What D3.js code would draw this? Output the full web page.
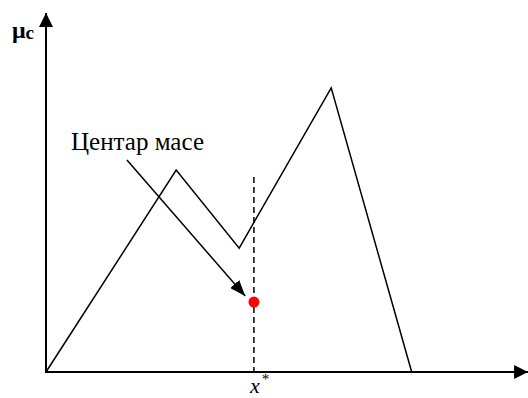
<!DOCTYPE html>
<html>
<head>
<meta charset="utf-8">
<script src="https://cdn.jsdelivr.net/npm/d3@7"></script>
</head>
<body style="margin:0;padding:0;background:#fff">
<svg id="chart" width="528" height="398"></svg>
<script>
// Aggregated membership function (output fuzzy set)
const xValues  = [0, 2.83, 4.2, 6.2, 7.95];
const muValues = [0, 0.673, 0.413, 0.947, 0];

// Centroid (defuzzified output)
const centroidX = 4.52;
const centroidMu = 0.233;
const centroidLineTop = 0.65;

// Annotation arrow: start and end points
const arrowFrom = [1.76, 0.707];
const arrowTo   = [4.33, 0.253];

// Text labels
const noteText = "Центар масе";
const muText = "μ";
const muSub = "c";
const xText = "x";
const xSup = "*";

// Axis extents
const xAxisMax = 10.48;
const yAxisMax = 1.197;

const FONT = '"Liberation Serif", "Times New Roman", "DejaVu Serif", serif';

const svg = d3.select("#chart");
const x = d3.scaleLinear().domain([0, 10]).range([46, 506]);
const y = d3.scaleLinear().domain([0, 1]).range([372, 72]);

const defs = svg.append("defs");
defs.append("marker")
  .attr("id", "axisHead")
  .attr("viewBox", "0 0 14 14")
  .attr("refX", 14).attr("refY", 7)
  .attr("markerWidth", 14).attr("markerHeight", 14)
  .attr("markerUnits", "userSpaceOnUse")
  .attr("orient", "auto")
  .append("path").attr("d", "M0,0 L14,7 L0,14 Z").attr("fill", "#000");
defs.append("marker")
  .attr("id", "noteHead")
  .attr("viewBox", "0 0 16 12")
  .attr("refX", 16).attr("refY", 6)
  .attr("markerWidth", 16).attr("markerHeight", 12)
  .attr("markerUnits", "userSpaceOnUse")
  .attr("orient", "auto")
  .append("path").attr("d", "M0,0 L16,6 L0,12 Z").attr("fill", "#000");

// Axes
svg.append("line")
  .attr("x1", x(0)).attr("y1", y(0) + 1)
  .attr("x2", x(0)).attr("y2", y(yAxisMax))
  .attr("stroke", "#000").attr("stroke-width", 2)
  .attr("marker-end", "url(#axisHead)");
svg.append("line")
  .attr("x1", x(0) - 1).attr("y1", y(0))
  .attr("x2", x(xAxisMax)).attr("y2", y(0))
  .attr("stroke", "#000").attr("stroke-width", 2)
  .attr("marker-end", "url(#axisHead)");

// Membership polyline
const line = d3.line().x((d, i) => x(xValues[i])).y(d => y(d));
svg.append("path")
  .datum(muValues)
  .attr("d", line)
  .attr("fill", "none")
  .attr("stroke", "#000")
  .attr("stroke-width", 1.5)
  .attr("stroke-linejoin", "miter");

// Vertical dashed line through the centroid
svg.append("line")
  .attr("x1", x(centroidX)).attr("y1", y(centroidLineTop))
  .attr("x2", x(centroidX)).attr("y2", y(0))
  .attr("stroke", "#000").attr("stroke-width", 1.5)
  .attr("stroke-dasharray", "6,4");

// Annotation arrow
svg.append("line")
  .attr("x1", x(arrowFrom[0])).attr("y1", y(arrowFrom[1]))
  .attr("x2", x(arrowTo[0])).attr("y2", y(arrowTo[1]))
  .attr("stroke", "#000").attr("stroke-width", 1.5)
  .attr("marker-end", "url(#noteHead)");

// Centroid point
svg.append("circle")
  .attr("cx", x(centroidX)).attr("cy", y(centroidMu))
  .attr("r", 5.5).attr("fill", "#ff0000");

// Annotation label
svg.append("text")
  .attr("x", 71).attr("y", 150)
  .attr("textLength", 133).attr("lengthAdjust", "spacingAndGlyphs")
  .style("font-family", FONT)
  .style("font-size", "26px")
  .attr("fill", "#000")
  .text(noteText);

// Y axis name
const yl = svg.append("text")
  .attr("x", 12).attr("y", 38)
  .style("font-family", FONT)
  .style("font-weight", "bold")
  .style("font-size", "24px")
  .attr("fill", "#000");
yl.append("tspan").text(muText);
yl.append("tspan").style("font-size", "19px").attr("dy", 1).text(muSub);

// Crisp output under the dashed line
const xl = svg.append("text")
  .attr("x", 250).attr("y", 393)
  .style("font-family", FONT)
  .style("font-style", "italic")
  .style("font-size", "22px")
  .attr("fill", "#000");
xl.append("tspan").text(xText);
xl.append("tspan").style("font-size", "15px").style("font-style", "normal")
  .attr("dx", 2).attr("dy", -9).text(xSup);
</script>
</body>
</html>
